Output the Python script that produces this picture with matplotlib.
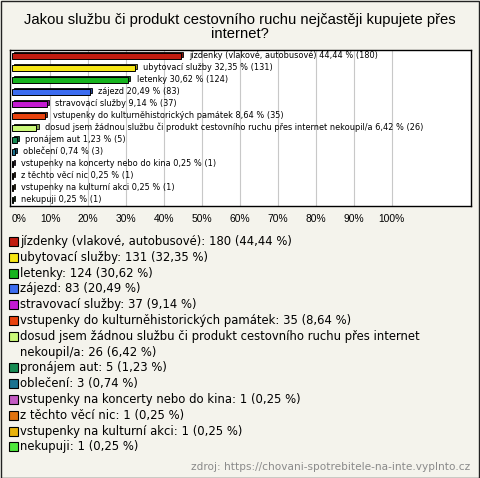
import matplotlib.pyplot as plt
from matplotlib.patches import Rectangle
from matplotlib.colors import to_rgb

# data from the survey chart
kategorie = ["jízdenky (vlakové, autobusové)", "ubytovací služby", "letenky", "zájezd",
             "stravovací služby", "vstupenky do kulturněhistorických památek",
             "dosud jsem žádnou službu či produkt cestovního ruchu přes internet nekoupil/a",
             "pronájem aut", "oblečení", "vstupenky na koncerty nebo do kina",
             "z těchto věcí nic", "vstupenky na kulturní akci", "nekupuji"]
pocty = [180, 131, 124, 83, 37, 35, 26, 5, 3, 1, 1, 1, 1]
procenta = [44.44, 32.35, 30.62, 20.49, 9.14, 8.64, 6.42, 1.23, 0.74, 0.25, 0.25, 0.25, 0.25]
barvy = ["#c01c10", "#f6e614", "#16b41e", "#3c6cf0", "#c41ad2", "#e8420e", "#caf878",
         "#168a52", "#1a7290", "#c45cc4", "#e0720e", "#e8b20a", "#4ee83c"]
tiky = [0, 10, 20, 30, 40, 50, 60, 70, 80, 90, 100]

W, H = 480, 478
bg = "#f4f3ec"
fig = plt.figure(figsize=(W / 100, H / 100), dpi=100, facecolor=bg)

# ramecek kolem obrazku
fig.patches.append(Rectangle((0.5 / W, 0.5 / H), 1 - 1.5 / W, 1 - 1.5 / H,
                             transform=fig.transFigure, fill=False, ec="#222222", lw=1))

# titulek
fig.text(240 / W, 1 - 27 / H, "Jakou službu či produkt cestovního ruchu nejčastěji kupujete přes\ninternet?",
         ha="center", va="center", fontsize=10.6, family="Liberation Sans", linespacing=1.0)

# graf
ax = fig.add_axes([10 / W, 1 - 206 / H, 461 / W, 156 / H])
ax.set_facecolor("white")
n = len(kategorie)
ax.set_xlim(-0.55, 120.9)
ax.set_ylim(n - 0.5, -0.5)
for t in tiky[1:]:
    ax.axvline(t, color="#c8c8c8", lw=0.8, zorder=0)

dx, dy = 0.55, -0.16
for i in range(n):
    p = procenta[i]
    tmava = tuple(c * 0.65 for c in to_rgb(barvy[i]))
    # 3D efekt: horni stena posunuta doprava nahoru
    ax.barh(i + dy, p, left=dx, height=0.42, color=tmava, edgecolor="black", lw=0.6, zorder=2)
    ax.barh(i, p, height=0.42, color=barvy[i], edgecolor="black", lw=0.7, zorder=3)
    txt = f"{kategorie[i]} {p:.2f} % ({pocty[i]})".replace(".", ",")
    ax.text(p + 2.2, i - 0.05, txt, va="center", ha="left", fontsize=5.85,
            family="DejaVu Sans", zorder=4)

ax.set_yticks([])
ax.set_xticks(tiky)
ax.set_xticklabels([f"{t}%" for t in tiky], fontsize=7.4, family="Liberation Sans")
ax.get_xticklabels()[0].set_ha("left")
ax.tick_params(axis="x", length=0, pad=6)
for s in ax.spines.values():
    s.set_color("black")
    s.set_linewidth(1)

# legenda
y0 = 241.5
krok = 15.8
row = 0
for i in range(n):
    y = y0 + row * krok
    fig.patches.append(Rectangle((8.5 / W, 1 - (y + 4.5) / H), 9 / W, 9 / H,
                                 transform=fig.transFigure, fc=barvy[i], ec="black", lw=0.8))
    txt = f"{kategorie[i]}: {pocty[i]} ({procenta[i]:.2f} %)".replace(".", ",")
    radky = txt.replace("internet ", "internet\n").split("\n")
    for r in radky:
        fig.text(20 / W, 1 - (y0 + row * krok) / H, r, ha="left", va="center",
                 fontsize=8.4, family="DejaVu Sans")
        row += 1

fig.text(470 / W, 1 - 467 / H, "zdroj: https://chovani-spotrebitele-na-inte.vyplnto.cz",
         ha="right", va="center", fontsize=7.6, color="#8a8a8a", family="DejaVu Sans")

fig.savefig("out.png", dpi=100, facecolor=bg)
